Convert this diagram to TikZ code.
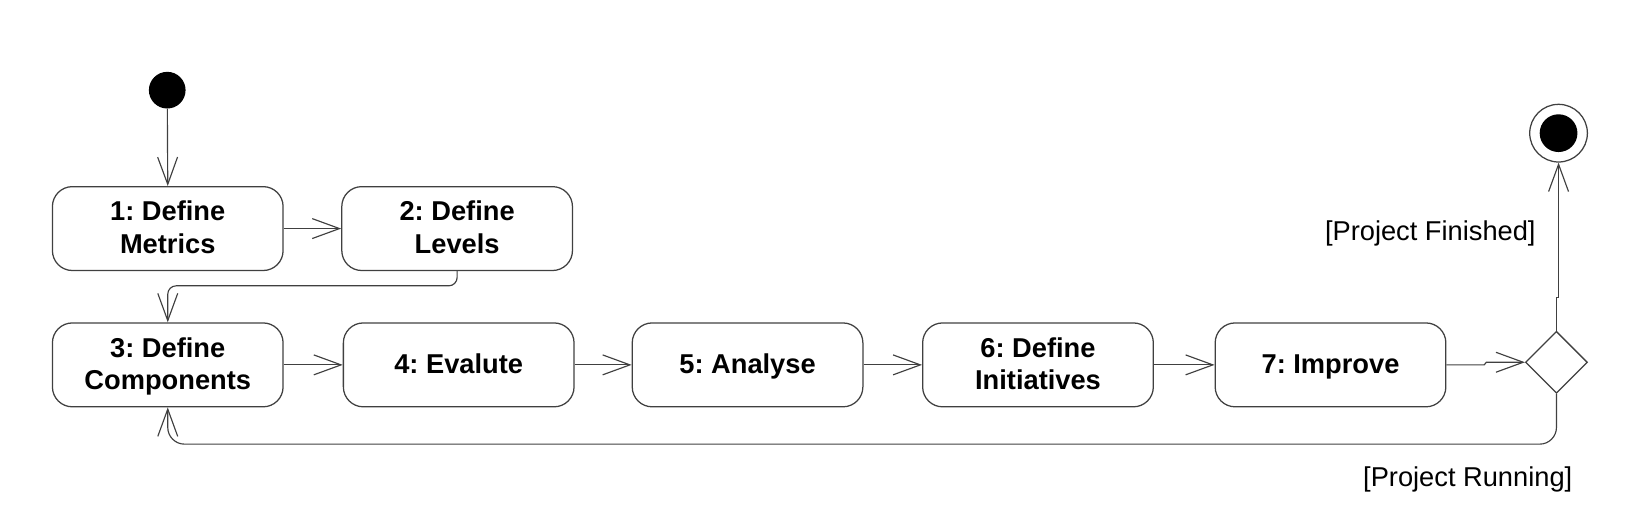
\documentclass[tikz,border=0pt]{standalone}
\usepackage{fontspec}
\setmainfont{Liberation Sans}
\frenchspacing
\newcommand\lnstrut{\rule[-3.65pt]{0pt}{15.5pt}}
\usetikzlibrary{arrows.meta,shapes.geometric}
\begin{document}
\begin{tikzpicture}[x=0.5pt,y=-0.5pt,
  act/.style={draw=black!75, line width=0.6pt, rounded corners=9.5pt, minimum width=110pt, minimum height=40pt, align=center, font=\fontsize{13}{15.5}\selectfont\bfseries, inner sep=0pt},
  flow/.style={draw=black!75, line width=0.55pt, -{Straight Barb[length=13pt,width=9.5pt]}},
  guard/.style={font=\fontsize{13}{15.5}\selectfont, anchor=east, inner sep=0pt}]
\useasboundingbox (0,0) rectangle (1568,505);
\node[circle, fill=black, minimum size=17.5pt, inner sep=0pt] (start) at (159.5,86) {};
\node[act] (b1) at (160,218) {\lnstrut 1: Define\\\lnstrut Metrics};
\node[act] (b2) at (436,218) {\lnstrut 2: Define\\\lnstrut Levels};
\node[act] (b3) at (160,348) {\lnstrut 3: Define\\\lnstrut Components};
\node[act] (b4) at (437.5,348) {\lnstrut 4: Evalute};
\node[act] (b5) at (713,348) {\lnstrut 5: Analyse};
\node[act] (b6) at (990,348) {\lnstrut 6: Define\\\lnstrut Initiatives};
\node[act] (b7) at (1269,348) {\lnstrut 7: Improve};
\node[diamond, aspect=1, draw=black!75, line width=0.6pt, minimum size=29.5pt, inner sep=0pt] (d) at (1484.5,345.5) {};
\node[circle, draw=black!75, line width=0.6pt, minimum size=27.5pt, inner sep=0pt] (end) at (1486.5,127) {};
\node[circle, fill=black, minimum size=18pt, inner sep=0pt] (endin) at (end) {};
\node[guard] (lf) at (1465,223) {[Project Finished]};
\node[guard] (lr) at (1500,457) {[Project Running]};
\draw[flow] (start) -- (b1.north);
\draw[flow] (b1) -- (b2);
\draw[flow, rounded corners=4pt] (b2.south) -- ++(0,14) -| (b3.north);
\draw[flow] (b3) -- (b4);
\draw[flow] (b4) -- (b5);
\draw[flow] (b5) -- (b6);
\draw[flow] (b6) -- (b7);
\draw[flow] (b7.east) -- ++(36,0) -- ++(2,-2.5) -- (d.west);
\draw[flow] (d.north) -- ++(0,-32) -| (end.south);
\draw[flow, rounded corners=8pt] (d.south) -- ++(0,48) -| (b3.south);
\end{tikzpicture}
\end{document}
